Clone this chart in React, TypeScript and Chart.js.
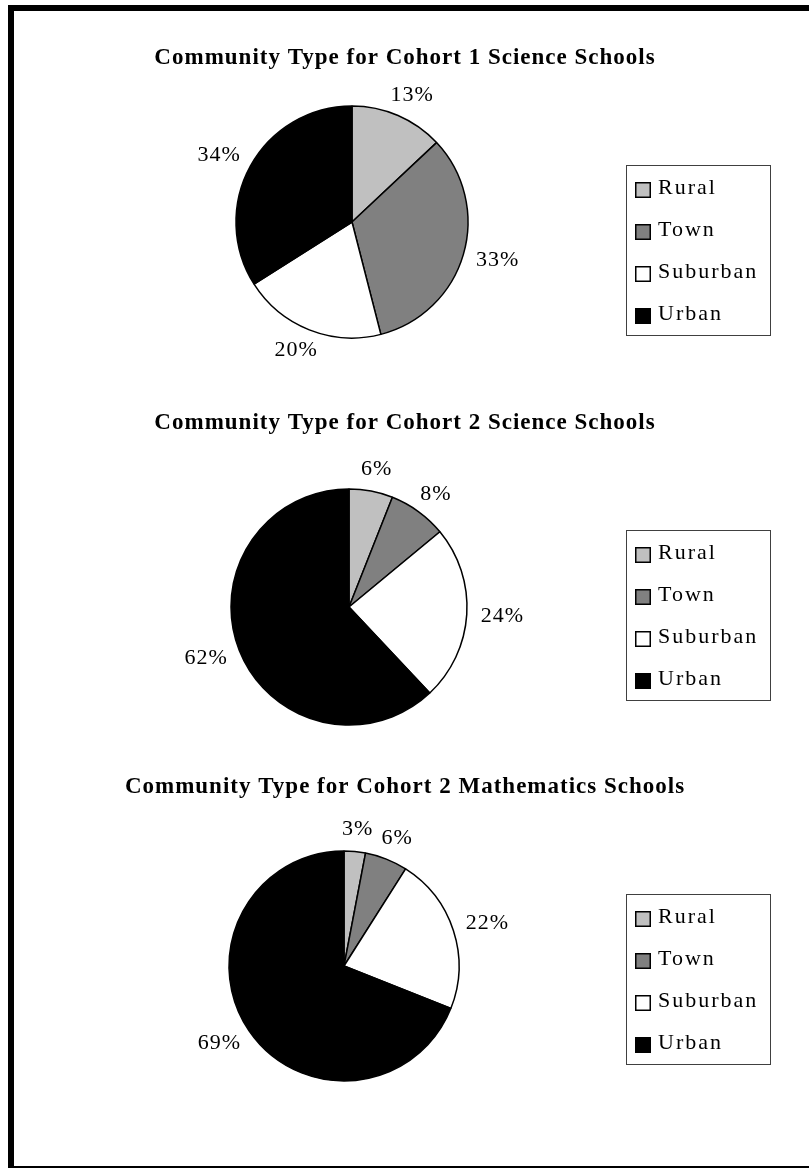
import React, { useEffect, useRef } from "react";
import { Chart, registerables } from "chart.js";

Chart.register(...registerables);

// ---- data ----
const categories = ["Rural", "Town", "Suburban", "Urban"];
const sliceColors = ["#c0c0c0", "#808080", "#ffffff", "#000000"];

const titleCohort1Science = "Community Type for Cohort 1 Science Schools";
const titleCohort2Science = "Community Type for Cohort 2 Science Schools";
const titleCohort2Math = "Community Type for Cohort 2 Mathematics Schools";

const cohort1Science = [13, 33, 20, 34];
const cohort2Science = [6, 8, 24, 62];
const cohort2Math = [3, 6, 22, 69];

// ---- layout ----
const W = 809;
const H = 365;
const SERIF = '"Liberation Serif", "Times New Roman", serif';

type Layout = { top: number; cx: number; cy: number; r: number };

const layouts: Layout[] = [
  { top: 0, cx: 352, cy: 222, r: 116 },
  { top: 365, cx: 349, cy: 242, r: 118 },
  { top: 729, cx: 344, cy: 237, r: 115 },
];

function PieSection({ title, values, layout }: { title: string; values: number[]; layout: Layout }) {
  const ref = useRef<HTMLCanvasElement | null>(null);

  useEffect(() => {
    const canvas = ref.current;
    if (!canvas) return;
    const hx = Math.min(layout.cx, W - layout.cx);
    const hy = Math.min(layout.cy, H - layout.cy);

    const decor = {
      id: "decor",
      afterDatasetsDraw(chart: any) {
        const ctx = chart.ctx as CanvasRenderingContext2D;
        ctx.save();
        // title
        ctx.fillStyle = "#000";
        ctx.font = `bold 23px ${SERIF}`;
        (ctx as any).letterSpacing = "1px";
        ctx.textAlign = "center";
        ctx.textBaseline = "middle";
        ctx.fillText(title, 405, 58);

        // percentage labels
        ctx.font = `22px ${SERIF}`;
        (ctx as any).letterSpacing = "1px";
        const meta = chart.getDatasetMeta(0);
        const gap = 14;
        meta.data.forEach((arc: any, i: number) => {
          const p = arc.getProps(["x", "y", "startAngle", "endAngle", "outerRadius"], true);
          const mid = (p.startAngle + p.endAngle) / 2;
          const ux = Math.cos(mid);
          const uy = Math.sin(mid);
          const text = `${chart.data.datasets[0].data[i]}%`;
          const w = ctx.measureText(text).width;
          const h = 16;
          const tx = p.x + ux * (p.outerRadius + gap) + (ux * w) / 2;
          const ty = p.y + uy * (p.outerRadius + gap) + (uy * h) / 2;
          ctx.fillText(text, tx, ty);
        });

        // legend
        const lx = 626;
        const ly = 165;
        ctx.strokeStyle = "#404040";
        ctx.lineWidth = 1;
        ctx.strokeRect(lx + 0.5, ly + 0.5, 144, 170);
        ctx.font = `22px ${SERIF}`;
        (ctx as any).letterSpacing = "2px";
        ctx.textAlign = "left";
        ctx.textBaseline = "alphabetic";
        const labels = chart.data.labels as string[];
        const bg = chart.data.datasets[0].backgroundColor as string[];
        labels.forEach((lab, i) => {
          const sy = ly + 17 + i * 42;
          ctx.fillStyle = bg[i];
          ctx.fillRect(635, sy, 16, 16);
          ctx.strokeStyle = "#000";
          ctx.lineWidth = 1.5;
          ctx.strokeRect(635.75, sy + 0.75, 14.5, 14.5);
          ctx.fillStyle = "#000";
          ctx.fillText(lab, 658, sy + 12);
        });
        ctx.restore();
      },
    };

    const chart = new Chart(canvas, {
      type: "pie",
      data: {
        labels: categories,
        datasets: [
          {
            data: values,
            backgroundColor: sliceColors,
            borderColor: "#000",
            borderWidth: 1.5,
          },
        ],
      },
      options: {
        responsive: false,
        devicePixelRatio: 1,
        animation: false,
        events: [],
        radius: layout.r,
        layout: {
          padding: {
            left: layout.cx - hx,
            right: W - layout.cx - hx,
            top: layout.cy - hy,
            bottom: H - layout.cy - hy,
          },
        },
        plugins: {
          legend: { display: false },
          title: { display: false },
          tooltip: { enabled: false },
        },
      } as any,
      plugins: [decor],
    });
    return () => chart.destroy();
  }, []);

  return (
    <canvas
      ref={ref}
      width={W}
      height={H}
      style={{ position: "absolute", left: 0, top: layout.top, width: W, height: H }}
    />
  );
}

export default function App() {
  return (
    <div
      style={{
        position: "fixed",
        left: 0,
        top: 0,
        width: 809,
        height: 1168,
        overflow: "hidden",
        background: "#fff",
      }}
    >
      <div
        style={{
          position: "absolute",
          left: 8,
          top: 5,
          width: 830,
          height: 1167,
          border: "6px solid #000",
          boxSizing: "border-box",
        }}
      />
      <PieSection title={titleCohort1Science} values={cohort1Science} layout={layouts[0]} />
      <PieSection title={titleCohort2Science} values={cohort2Science} layout={layouts[1]} />
      <PieSection title={titleCohort2Math} values={cohort2Math} layout={layouts[2]} />
    </div>
  );
}
